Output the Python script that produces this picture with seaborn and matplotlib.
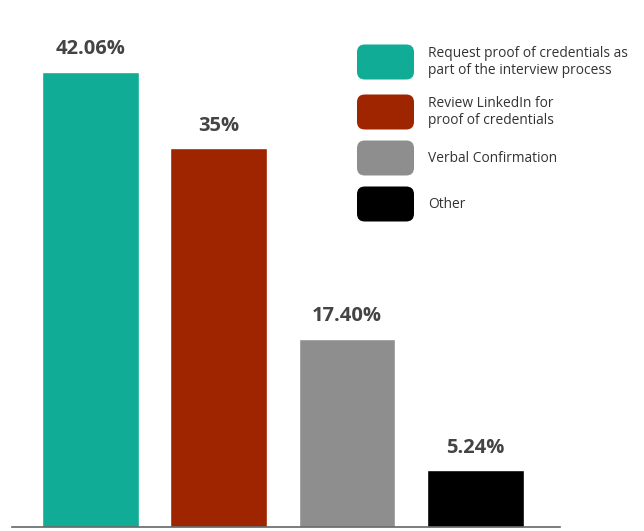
import matplotlib
matplotlib.use("Agg")
import matplotlib.pyplot as plt
from matplotlib.patches import FancyBboxPatch
import seaborn as sns
import pandas as pd

categories = [
    "Request proof of credentials as\npart of the interview process",
    "Review LinkedIn for\nproof of credentials",
    "Verbal Confirmation",
    "Other",
]
values = [42.06, 35.0, 17.40, 5.24]
value_labels = ["42.06%", "35%", "17.40%", "5.24%"]
colors = ["#10AC96", "#9E2500", "#8E8E8E", "#000000"]

sns.set_theme(style="white")
plt.rcParams["font.family"] = ["Open Sans", "DejaVu Sans"]

df = pd.DataFrame({"category": categories, "value": values})

fig = plt.figure(figsize=(6.44, 5.31), dpi=100)
ax = fig.add_axes([12 / 644, 4 / 531, (560 - 12) / 644, 527 / 531])

sns.barplot(data=df, x="category", y="value", hue="category",
            palette=colors, dodge=False, width=0.755, legend=False,
            saturation=1, ax=ax)

ax.set_xlim(-0.61, 3.66)
ax.set_ylim(0, 48.7)

# Value labels above each bar
for cont in ax.containers:
    for bar in cont:
        idx = int(round(bar.get_x() + bar.get_width() / 2))
        ax.annotate(value_labels[idx],
                    (bar.get_x() + bar.get_width() / 2, bar.get_height()),
                    xytext=(0, 9), textcoords="offset points",
                    ha="center", va="bottom", fontsize=14.5,
                    fontweight="bold", color="#444444")

ax.set_xlabel("")
ax.set_ylabel("")
ax.set_xticks([])
ax.set_yticks([])
for s in ["top", "right", "left"]:
    ax.spines[s].set_visible(False)
ax.spines["bottom"].set_color("#666666")
ax.spines["bottom"].set_linewidth(1.2)

# Legend with rounded swatches
W, H = 644, 531
sw_x, sw_w, sw_h = 357, 57, 35
centers = [62, 112, 158, 204]
for label, color, cy in zip(categories, colors, centers):
    patch = FancyBboxPatch((sw_x / W, (H - cy - sw_h / 2) / H),
                           sw_w / W, sw_h / H,
                           boxstyle="round,pad=0,rounding_size=0.012",
                           transform=fig.transFigure, facecolor=color,
                           edgecolor="none", mutation_aspect=W / H)
    fig.patches.append(patch)
    fig.text(428 / W, (H - cy) / H, label, ha="left", va="center",
             fontsize=9.9, color="#333333", linespacing=1.15)

fig.savefig("out.png", dpi=100)
